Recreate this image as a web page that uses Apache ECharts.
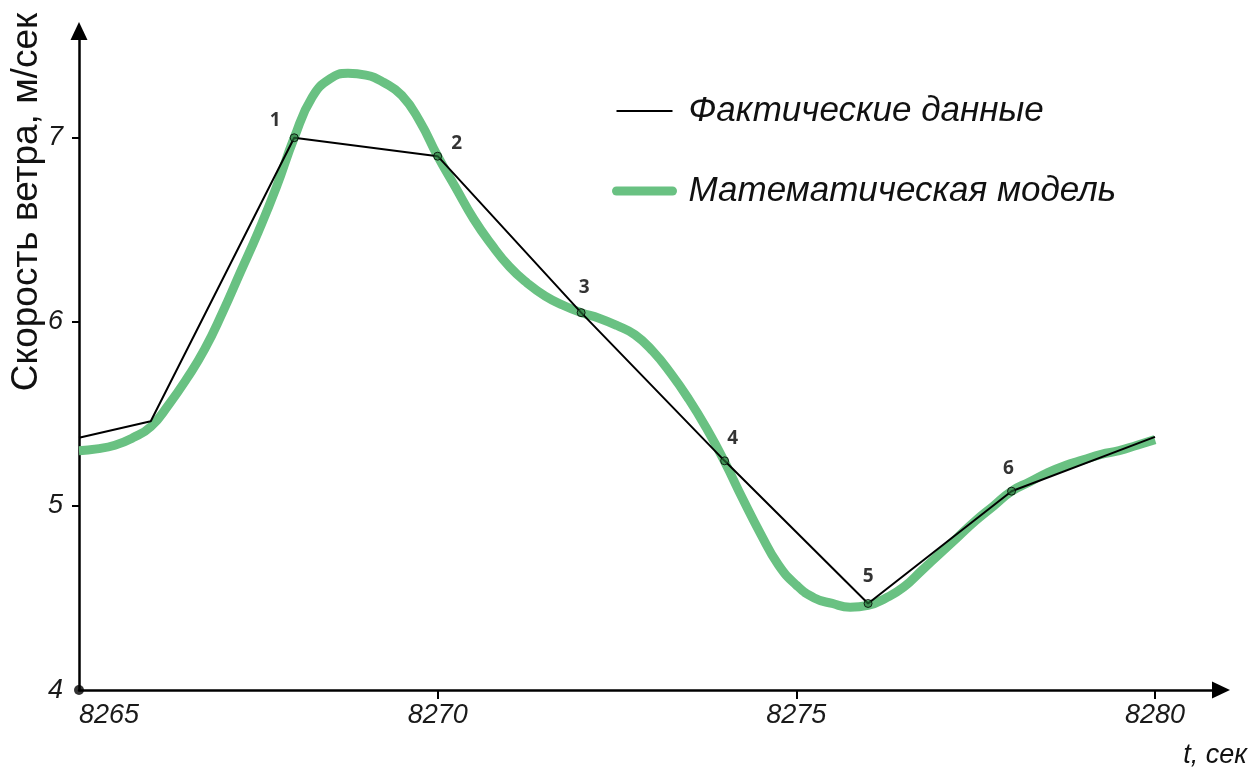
<!DOCTYPE html>
<html>
<head>
<meta charset="utf-8">
<script src="https://cdn.jsdelivr.net/npm/echarts@6/dist/echarts.min.js"></script>
<style>
  html, body { margin: 0; padding: 0; background: #fff; }
  #chart { width: 1250px; height: 769px; }
</style>
</head>
<body>
<div id="chart"></div>
<script>
// axis range
const X_MIN = 8265;
const X_MAX = 8280.92;
const Y_MIN = 4;
const Y_MAX = 7.58;
const xTickLabels = [8265, 8270, 8275, 8280];
const yTickLabels = [4, 5, 6, 7];

// actual data (black polyline)
const tActual = [8265, 8266, 8268, 8270, 8272, 8274, 8276, 8278, 8280];
const vActual = [5.37, 5.46, 7.0, 6.9, 6.05, 5.245, 4.47, 5.08, 5.375];
const pointNames = ['', '', '1', '2', '3', '4', '5', '6', ''];

// model (green curve), read every 0.25 s
const tModel = [
  8265, 8265.25, 8265.5, 8265.75, 8266, 8266.25, 8266.5, 8266.75,
  8267, 8267.25, 8267.5, 8267.75, 8268, 8268.25, 8268.5, 8268.75,
  8269, 8269.25, 8269.5, 8269.75, 8270, 8270.25, 8270.5, 8270.75,
  8271, 8271.25, 8271.5, 8271.75, 8272, 8272.25, 8272.5, 8272.75,
  8273, 8273.25, 8273.5, 8273.75, 8274, 8274.25, 8274.5, 8274.75,
  8275, 8275.25, 8275.5, 8275.75, 8276, 8276.25, 8276.5, 8276.75,
  8277, 8277.25, 8277.5, 8277.75, 8278, 8278.25, 8278.5, 8278.75,
  8279, 8279.25, 8279.5, 8279.75, 8280,
];
const vModel = [
  5.30, 5.31, 5.33, 5.37, 5.43, 5.55, 5.69, 5.85,
  6.05, 6.27, 6.49, 6.73, 7.00, 7.22, 7.32, 7.35,
  7.34, 7.30, 7.23, 7.09, 6.90, 6.73, 6.56, 6.42,
  6.30, 6.21, 6.14, 6.09, 6.05, 6.02, 5.98, 5.93,
  5.84, 5.72, 5.58, 5.42, 5.24, 5.04, 4.85, 4.68,
  4.57, 4.50, 4.47, 4.45, 4.46, 4.50, 4.56, 4.65,
  4.74, 4.83, 4.92, 5.00, 5.08, 5.13, 5.18, 5.22,
  5.25, 5.28, 5.30, 5.33, 5.36,
];

const NAME_ACTUAL = 'Фактические данные';
const NAME_MODEL = 'Математическая модель';

// label offsets for the numbered points
const labelOffsets = {
  '1': [-19, -17],
  '2': [19, -13],
  '3': [3, -25],
  '4': [8, -22],
  '5': [0, -27],
  '6': [-3, -23],
};

const FONT = '"Liberation Sans", Arial, sans-serif';

const chart = echarts.init(document.getElementById('chart'));

const actualData = tActual.map((t, i) => [t, vActual[i]]);
const modelData = tModel.map((t, i) => [t, vModel[i]]);
const markedPoints = [];
tActual.forEach((t, i) => {
  if (pointNames[i]) {
    markedPoints.push({
      name: pointNames[i],
      value: [t, vActual[i]],
      label: { offset: labelOffsets[pointNames[i]] },
    });
  }
});

const hiddenSymbol = { color: 'rgba(0,0,0,0)', borderWidth: 0, opacity: 0 };

const option = {
  backgroundColor: '#fff',
  animation: false,
  grid: {
    left: 79,
    right: 29,
    top: 31,
    bottom: 79,
  },
  legend: {
    orient: 'vertical',
    left: 607,
    top: 86,
    itemWidth: 56,
    itemHeight: 14,
    itemGap: 40,
    textStyle: {
      fontFamily: FONT,
      fontStyle: 'italic',
      fontSize: 35,
      color: '#111',
      lineHeight: 40,
      padding: [0, 0, 0, 11],
    },
    data: [
      { name: NAME_ACTUAL, lineStyle: { width: 2 }, itemStyle: hiddenSymbol },
      { name: NAME_MODEL, lineStyle: { width: 9, cap: 'round' }, itemStyle: hiddenSymbol },
    ],
  },
  xAxis: {
    type: 'value',
    min: X_MIN,
    max: X_MAX,
    splitLine: { show: false },
    axisLine: {
      lineStyle: { color: '#000', width: 2.5 },
      symbol: ['none', 'triangle'],
      symbolSize: [17, 18],
    },
    axisTick: {
      customValues: [8270, 8275, 8280],
      length: 9,
      lineStyle: { color: '#000', width: 2 },
    },
    axisLabel: {
      customValues: xTickLabels,
      formatter: (v) => String(v),
      alignMinLabel: 'left',
      margin: 12,
      fontFamily: FONT,
      fontStyle: 'italic',
      fontSize: 27,
      color: '#1a1a1a',
    },
  },
  yAxis: {
    type: 'value',
    min: Y_MIN,
    max: Y_MAX,
    splitLine: { show: false },
    axisLine: {
      lineStyle: { color: '#000', width: 2.5 },
      symbol: ['none', 'triangle'],
      symbolSize: [17, 18],
    },
    axisTick: {
      customValues: [5, 6, 7],
      length: 7,
      lineStyle: { color: '#000', width: 2 },
    },
    axisLabel: {
      customValues: yTickLabels,
      formatter: (v) => String(v),
      margin: 16,
      fontFamily: FONT,
      fontStyle: 'italic',
      fontSize: 27,
      color: '#1a1a1a',
    },
  },
  graphic: [
    {
      type: 'text',
      x: 27,
      y: 202,
      rotation: Math.PI / 2,
      style: {
        text: 'Скорость ветра, м/сек',
        font: '37px ' + FONT,
        fill: '#111',
        align: 'center',
        verticalAlign: 'middle',
      },
    },
    {
      type: 'text',
      x: 1247,
      y: 755,
      style: {
        text: 't, сек',
        font: 'italic 27px ' + FONT,
        fill: '#111',
        align: 'right',
        verticalAlign: 'middle',
      },
    },
  ],
  series: [
    {
      name: NAME_MODEL,
      type: 'line',
      data: modelData,
      smooth: 0.5,
      symbol: 'none',
      lineStyle: { color: '#69c182', width: 9 },
      itemStyle: { color: '#69c182' },
      z: 2,
    },
    {
      name: NAME_ACTUAL,
      type: 'line',
      data: actualData,
      symbol: 'none',
      lineStyle: { color: '#000', width: 2 },
      itemStyle: { color: '#000' },
      z: 3,
    },
    {
      name: 'points',
      type: 'scatter',
      data: markedPoints,
      symbol: 'circle',
      symbolSize: 8,
      itemStyle: {
        color: 'rgba(40, 120, 60, 0.8)',
        borderColor: '#000',
        borderWidth: 1,
      },
      label: {
        show: true,
        position: 'inside',
        formatter: '{b}',
        fontFamily: '"Open Sans", sans-serif',
        fontWeight: 'bold',
        fontSize: 19,
        color: '#000',
      },
      z: 4,
    },
    {
      name: 'origin',
      type: 'scatter',
      data: [[X_MIN, Y_MIN]],
      symbolSize: 10,
      itemStyle: { color: '#000' },
      clip: false,
      silent: true,
      z: 5,
    },
  ],
};

chart.setOption(option);
</script>
</body>
</html>
